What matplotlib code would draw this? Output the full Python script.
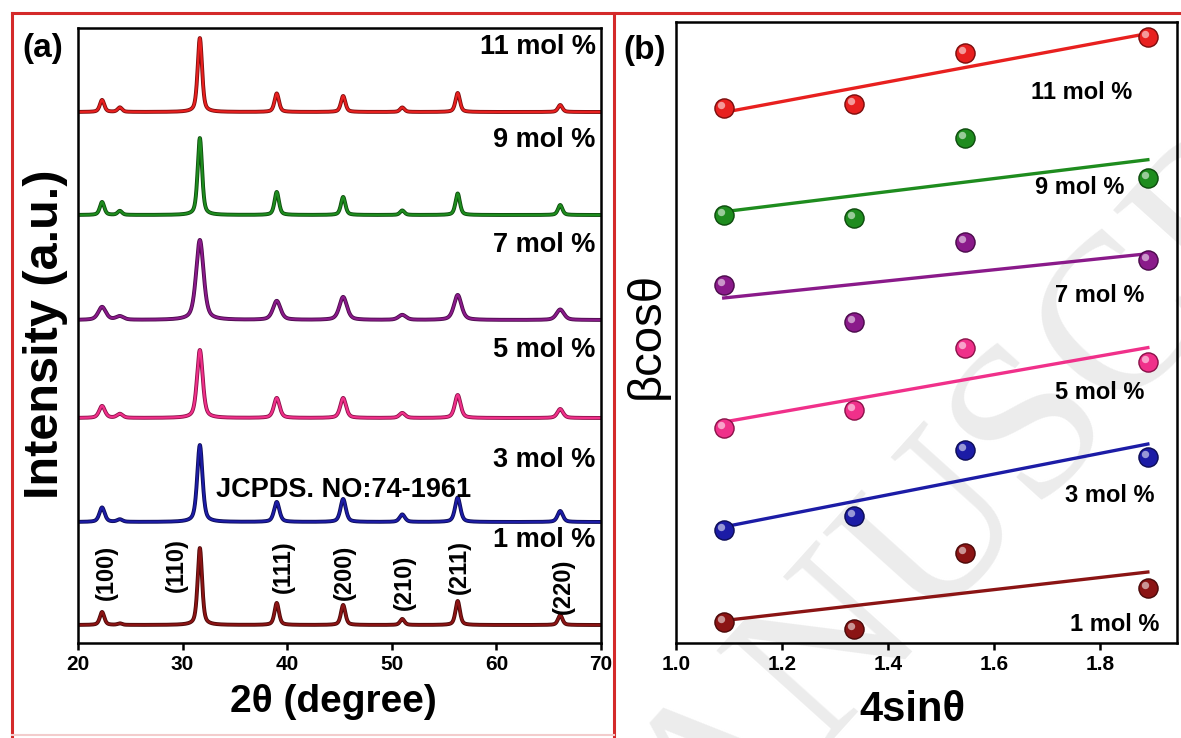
import numpy as np
import matplotlib
matplotlib.use("Agg")
import matplotlib.pyplot as plt
import matplotlib.patheffects as pe
from matplotlib.lines import Line2D
from matplotlib.transforms import offset_copy

plt.rcParams["font.family"] = ["Liberation Sans", "DejaVu Sans"]

W, H = 1181, 738

# ---- panel (a): XRD patterns ----
samples = ["1 mol %", "3 mol %", "5 mol %", "7 mol %", "9 mol %", "11 mol %"]
colors = ["#8b1414", "#1c1ca6", "#f0308a", "#8a1a8a", "#1e8c1e", "#e8201f"]
dark = ["#4a0808", "#0c0c55", "#8a1048", "#4a0a4a", "#0c4a0c", "#7a0c0c"]

peak_pos = [22.3, 24.0, 31.65, 39.0, 45.35, 51.0, 56.3, 66.1]
peak_h_1 = [13, 1.5, 77, 22, 20, 6, 24, 10]
peak_h_3 = [14.5, 2.5, 77, 20, 23, 7.5, 24.5, 11]
peak_h_5 = [12, 4, 68, 20, 20, 5, 23, 9]
peak_h_7 = [13, 3.5, 80, 19, 23, 5, 25, 10.5]
peak_h_9 = [13, 4, 77, 23, 18, 4.5, 21.5, 10]
peak_h_11 = [12, 4.5, 74, 18.5, 16, 4.5, 19, 7]
peak_heights = [peak_h_1, peak_h_3, peak_h_5, peak_h_7, peak_h_9, peak_h_11]
fwhm = [0.5, 0.6, 0.65, 0.85, 0.5, 0.5]
baseline = [18, 121, 225, 323, 428, 531]

hkl = ["(100)", "(110)", "(111)", "(200)", "(210)", "(211)", "(220)"]
hkl_xy = [(22.7, 71), (29.4, 78), (39.6, 76), (45.5, 71), (51.2, 61), (56.5, 76), (66.4, 57)]
label_y_a = [103, 183, 293, 398, 503, 596]

# ---- panel (b): Williamson-Hall ----
four_sin = [1.09, 1.335, 1.545, 1.89]
bcos_1 = [3.4, 2.3, 14.5, 8.9]
bcos_3 = [18.2, 20.5, 31.1, 30.0]
bcos_5 = [34.6, 37.5, 47.5, 45.2]
bcos_7 = [57.6, 51.7, 64.6, 61.7]
bcos_9 = [68.9, 68.4, 81.3, 74.9]
bcos_11 = [86.2, 86.8, 95.0, 97.6]
bcos = [bcos_1, bcos_3, bcos_5, bcos_7, bcos_9, bcos_11]
label_xy_b = [(1.828, 3.0), (1.819, 23.7), (1.80, 40.3), (1.80, 56.0), (1.762, 73.3), (1.766, 88.6)]


def pseudo_voigt(x, centers, heights, w):
    y = np.zeros_like(x)
    for c, h in zip(centers, heights):
        d = (x - c) / w
        y += h * (0.5 * np.exp(-4 * np.log(2) * d ** 2) + 0.5 / (1 + 4 * d ** 2))
    return y


fig = plt.figure(figsize=(W / 100, H / 100), dpi=100)

axA = fig.add_axes([78 / W, 1 - 643 / H, (601 - 78) / W, (643 - 28) / H])
axB = fig.add_axes([676 / W, 1 - 643 / H, (1177 - 676) / W, (643 - 22) / H])
for ax in (axA, axB):
    ax.set_facecolor("none")
    for s in ax.spines.values():
        s.set_linewidth(1.8)
    ax.tick_params(axis="x", direction="out", length=5, width=1.8, labelsize=15, pad=4)
    ax.set_yticks([])

# watermark behind panel (b)
fig.text(1020 / W, 1 - 445 / H, "MANUSCRIPT", rotation=48, fontsize=160,
         family="Liberation Serif", color="#ececec", ha="center", va="center",
         rotation_mode="anchor", zorder=-5)

# panel (a)
tt = np.linspace(20, 70, 2501)
for i, name in enumerate(samples):
    y = baseline[i] + pseudo_voigt(tt, peak_pos, peak_heights[i], fwhm[i])
    axA.plot(tt, y, color=colors[i], lw=1.6,
             path_effects=[pe.Stroke(linewidth=2.8, foreground=dark[i]), pe.Normal()])
    axA.text(69.5, label_y_a[i], name, ha="right", va="center", fontsize=19.5, fontweight="bold")
axA.set_xlim(20, 70)
axA.set_ylim(0, 615)
axA.set_xticks([20, 30, 40, 50, 60, 70])
for t in axA.get_xticklabels():
    t.set_fontweight("bold")
for lab, (x, y) in zip(hkl, hkl_xy):
    axA.text(x, y, lab, rotation=90, ha="center", va="center", fontsize=17, fontweight="bold")
axA.text(45.36, 153, "JCPDS. NO:74-1961", ha="center", va="center", fontsize=19.5, fontweight="bold")
axA.set_xlabel("2θ (degree)", fontsize=28, fontweight="bold", va="center")
axA.xaxis.set_label_coords((333 - 78) / (601 - 78), -(702 - 643) / (643 - 28), transform=axA.transAxes)
fig.text(46 / W, 1 - 334 / H, "Intensity (a.u.)", rotation=90, ha="center", va="center",
         fontsize=35, fontweight="bold")
fig.text(43 / W, 1 - 48 / H, "(a)", ha="center", va="center", fontsize=24, fontweight="bold")

# panel (b)
hl = offset_copy(axB.transData, fig=fig, x=-3, y=3, units="dots")
for i, name in enumerate(samples):
    k, b = np.polyfit(four_sin, bcos[i], 1)
    xs = np.array([four_sin[0], four_sin[-1]])
    axB.plot(xs, k * xs + b, color=colors[i], lw=2.4, zorder=2)
    axB.scatter(four_sin, bcos[i], s=190, color=colors[i], edgecolors=dark[i], linewidths=1.0, zorder=3)
    axB.scatter(four_sin, bcos[i], s=28, color="white", alpha=0.55, linewidths=0, zorder=4,
                transform=hl)
    axB.text(label_xy_b[i][0], label_xy_b[i][1], name, ha="center", va="center",
             fontsize=17, fontweight="bold")
axB.set_xlim(1.0, 1.945)
axB.set_ylim(0, 100)
axB.set_xticks([1.0, 1.2, 1.4, 1.6, 1.8])
axB.set_xticklabels(["1.0", "1.2", "1.4", "1.6", "1.8"], fontweight="bold")
axB.set_xlabel("4sinθ", fontsize=30, fontweight="bold", va="center")
axB.xaxis.set_label_coords((912 - 676) / (1177 - 676), -(710 - 643) / (643 - 22), transform=axB.transAxes)
fig.text(647 / W, 1 - 335 / H, "βcosθ", rotation=90, ha="center", va="center", fontsize=34)
fig.text(645 / W, 1 - 50 / H, "(b)", ha="center", va="center", fontsize=24, fontweight="bold")

# red panel frames
red = "#d42a2a"
for xs, ys in [((12, 1181), (13, 13)), ((12, 12), (13, 738)), ((614, 614), (13, 738))]:
    fig.add_artist(Line2D([x / W for x in xs], [1 - y / H for y in ys], color=red, lw=2.2))
fig.add_artist(Line2D([12 / W, 614 / W], [1 - 735 / H] * 2, color="#f3cccc", lw=1.5))

fig.savefig("out.png", dpi=100)
